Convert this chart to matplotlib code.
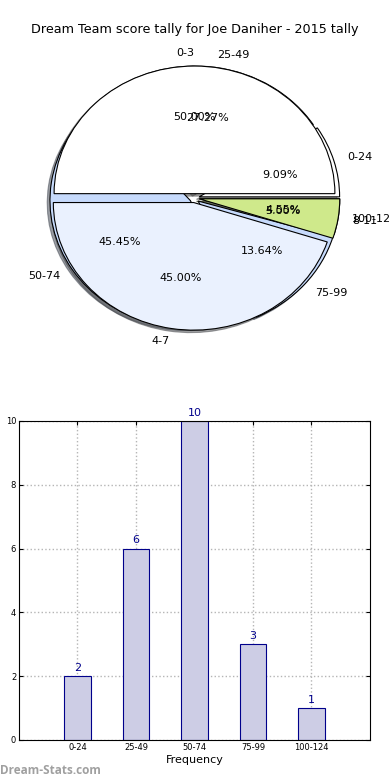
import matplotlib
matplotlib.use("Agg")
import matplotlib.pyplot as plt

# score tally pie (top layer)
tally_labels = ['0-3', '4-7', '8-11']
tally_counts = [10, 9, 1]
tally_colors = ['#ffffff', '#eaf1fe', '#cfe98b']

# score bins (pie underneath + bar chart)
bin_labels = ['0-24', '25-49', '50-74', '75-99', '100-124']
bin_counts = [2, 6, 10, 3, 1]
bin_colors = ['#ffffff', '#ffffff', '#c6dafc', '#c6dafc', '#cfe98b']

title = 'Dream Team score tally for Joe Daniher - 2015 tally'

fig = plt.figure(figsize=(3.9, 7.8), dpi=100)

# --- pie section ---
ax1 = fig.add_axes([0.0487, 0.5415, 0.9, 0.409])
wp = dict(edgecolor='black', linewidth=0.8)
shad = dict(ox=-0.014, oy=-0.014)
ax1.pie(bin_counts, labels=bin_labels, colors=bin_colors, autopct='%1.2f%%',
        explode=[0.035] * len(bin_counts), shadow=shad, wedgeprops=wp,
        textprops=dict(fontsize=8))
ax1.pie(tally_counts, labels=tally_labels, colors=tally_colors, autopct='%1.2f%%',
        explode=[0.035] * len(tally_counts), shadow=shad, wedgeprops=wp,
        textprops=dict(fontsize=8))
ax1.set_aspect('auto')
ax1.set_xlim(-1.25, 1.25)
ax1.set_ylim(-1.25, 1.25)

fig.text(0.5, 1 - 30 / 780, title, ha='center', va='center', fontsize=9.2)

# --- bar section ---
ax2 = fig.add_axes([0.0487, 0.0513, 0.9, 0.409])
pos = list(range(1, len(bin_counts) + 1))
ax2.bar(pos, bin_counts, width=0.45, color='#cdcde5', edgecolor='#00008b',
        linewidth=0.8, zorder=2)
for x, v in zip(pos, bin_counts):
    ax2.text(x, v + 0.1, str(v), ha='center', va='bottom', color='#00008b', fontsize=8)

ax2.set_xlim(0, 6)
ax2.set_ylim(0, 10)
ax2.set_xticks(pos)
ax2.set_xticklabels(bin_labels)
ax2.set_yticks(range(0, 11, 2))
ax2.tick_params(labelsize=6, direction='in', top=True, right=True, length=3, pad=2)
ax2.grid(True, linestyle=':', color='#b5b5b5', linewidth=1, zorder=0)
ax2.set_axisbelow(True)
ax2.set_xlabel('Frequency', fontsize=8, labelpad=2)
ax2.set_ylabel('Data Intervals', fontsize=8, labelpad=6)

fig.text(0.0, 1 - 770 / 780, 'Dream-Stats.com', ha='left', va='center',
         color='#a0a0a0', fontsize=8.5, fontweight='bold', family='Open Sans')

fig.savefig('out.png', dpi=100)
